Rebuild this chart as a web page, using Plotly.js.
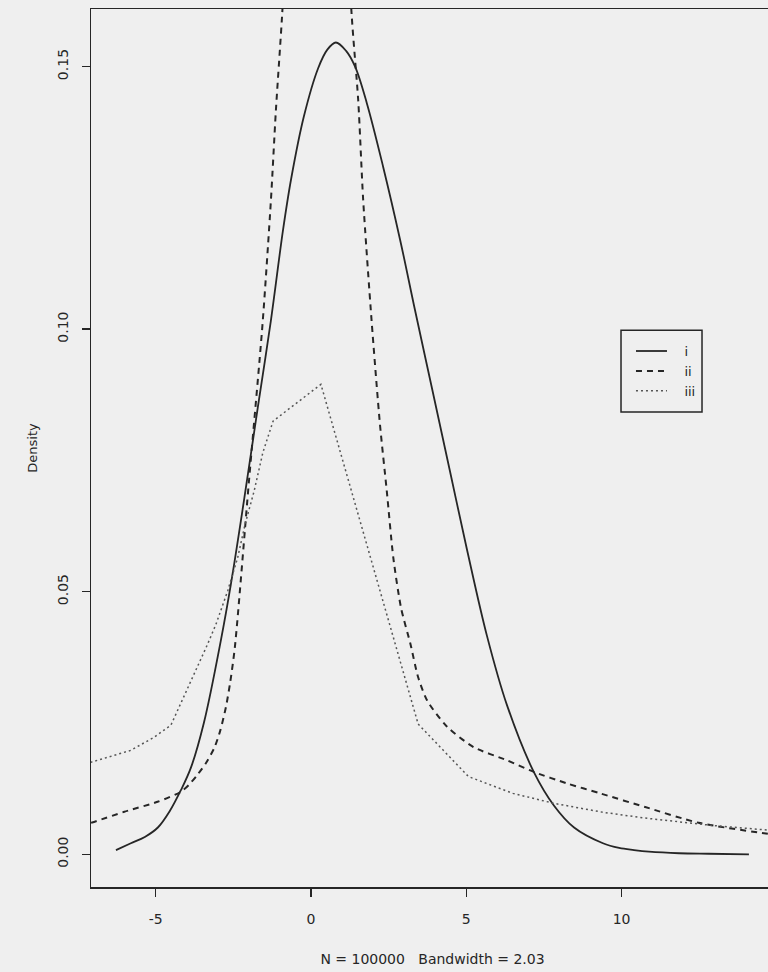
<!DOCTYPE html>
<html>
<head>
<meta charset="utf-8">
<script src="https://cdn.plot.ly/plotly-3.0.1.min.js"></script>
<style>
html, body { margin: 0; padding: 0; overflow: hidden; background: #efefef; }
#chart { width: 780px; height: 972px; }
</style>
</head>
<body>
<div id="chart"></div>
<script>
// Series i (solid)
const xI = [-6.28, -5.80, -5.35, -4.93, -4.55, -4.19, -3.86, -3.45, -2.90, -2.58, -2.16, -1.71, -1.29, -0.90, -0.64, -0.23, 0.23, 0.52, 0.80, 1.13, 1.42, 1.80, 2.32, 2.87, 3.35, 3.93, 4.48, 5.02, 5.67, 6.31, 7.18, 7.82, 8.47, 9.40, 9.92, 10.40, 10.88, 11.85, 12.80, 14.10];
const yI = [0.0008, 0.0021, 0.0033, 0.0051, 0.0082, 0.0122, 0.0166, 0.0250, 0.0408, 0.0514, 0.0673, 0.0852, 0.1017, 0.1189, 0.1286, 0.1405, 0.1497, 0.1532, 0.1546, 0.1530, 0.1500, 0.1430, 0.1310, 0.1170, 0.1036, 0.0878, 0.0728, 0.0581, 0.0415, 0.0284, 0.0156, 0.0093, 0.0051, 0.0021, 0.0012, 0.0008, 0.0005, 0.0002, 0.0001, 0.0000];

// Series ii (dashed) — its peak runs off the top of the plot
const xII = [-7.08, -6.92, -6.01, -4.94, -4.19, -3.92, -3.65, -3.38, -3.11, -2.92, -2.74, -2.60, -2.45, -2.00, -1.56, -1.29, -1.13, -0.93, 0.20, 1.31, 1.52, 1.68, 1.95, 2.22, 2.44, 2.65, 2.90, 3.20, 3.45, 3.74, 4.38, 5.24, 6.31, 7.17, 8.24, 9.31, 10.76, 12.48, 14.71, 15.20];
const yII = [0.0060, 0.0063, 0.0081, 0.0100, 0.0119, 0.0133, 0.0152, 0.0174, 0.0203, 0.0236, 0.0280, 0.0328, 0.0395, 0.0709, 0.1010, 0.1246, 0.1417, 0.1598, 0.2800, 0.1598, 0.1436, 0.1246, 0.1017, 0.0819, 0.0692, 0.0565, 0.0469, 0.0401, 0.0337, 0.0293, 0.0243, 0.0204, 0.0179, 0.0157, 0.0135, 0.0116, 0.0090, 0.0060, 0.0039, 0.0036];

// Series iii (dotted)
const xIII = [-7.10, -5.80, -5.05, -4.51, -3.33, -3.06, -2.68, -2.36, -2.12, -1.83, -1.55, -1.22, 0.32, 3.45, 5.07, 6.50, 7.82, 8.63, 9.40, 10.75, 12.91, 14.71, 15.20];
const yIII = [0.0175, 0.0198, 0.0223, 0.0246, 0.0400, 0.0438, 0.0502, 0.0565, 0.0629, 0.0692, 0.0765, 0.0825, 0.0895, 0.0248, 0.0148, 0.0116, 0.0097, 0.0088, 0.0080, 0.0069, 0.0055, 0.0046, 0.0044];

const seriesNames = ['i', 'ii', 'iii'];
const xTicks = [-5, 0, 5, 10];
const xTickText = ['-5', '0', '5', '10'];
const yTicks = [0, 0.05, 0.10, 0.15];
const yTickText = ['0.00', '0.05', '0.10', '0.15'];
const xTitle = 'N = 100000\u00a0\u00a0\u00a0Bandwidth = 2.03';
const yTitle = 'Density';

const FONT = 'DejaVu Sans, Liberation Sans, Arial, sans-serif';
const INK = '#262626';
const pad = '\u00a0\u00a0\u00a0';

const traces = [
  { x: xI, y: yI, name: pad + seriesNames[0], mode: 'lines', type: 'scatter',
    line: { color: INK, width: 1.8, dash: 'solid', shape: 'spline', smoothing: 1.0 } },
  { x: xII, y: yII, name: pad + seriesNames[1], mode: 'lines', type: 'scatter',
    line: { color: INK, width: 2, dash: '6px,5px', shape: 'spline', smoothing: 0.7 } },
  { x: xIII, y: yIII, name: pad + seriesNames[2], mode: 'lines', type: 'scatter',
    line: { color: '#555555', width: 1.5, dash: '2px,3px' } }
];

const layout = {
  width: 780, height: 972,
  margin: { l: 91, r: 6, t: 9, b: 85 },
  paper_bgcolor: '#efefef', plot_bgcolor: '#efefef',
  font: { family: FONT, size: 14, color: INK },
  showlegend: true,
  legend: {
    x: 0.7906, y: 0.6275, xanchor: 'left', yanchor: 'top',
    bgcolor: 'rgba(0,0,0,0)', borderwidth: 0, itemwidth: 31,
    font: { family: FONT, size: 13, color: INK }
  },
  shapes: [
    { type: 'rect', xref: 'paper', yref: 'paper', x0: 0.776, x1: 0.8946, y0: 0.541, y1: 0.634,
      line: { color: INK, width: 1.5 }, fillcolor: 'rgba(0,0,0,0)' }
  ],
  xaxis: {
    range: [-7.083, 14.907], tickvals: xTicks, ticktext: xTickText,
    showgrid: false, zeroline: false, showline: true, mirror: true,
    linecolor: INK, linewidth: 1.5, ticks: 'outside', ticklen: 8, tickwidth: 1.5, tickcolor: INK,
    ticklabelstandoff: 11,
    tickfont: { family: FONT, size: 14, color: INK },
    title: { text: xTitle, font: { family: FONT, size: 14, color: INK }, standoff: 28 }
  },
  yaxis: {
    range: [-0.00623, 0.16098], tickvals: yTicks, ticktext: yTickText, tickangle: -90,
    showgrid: false, zeroline: false, showline: true, mirror: true,
    linecolor: INK, linewidth: 1.5, ticks: 'outside', ticklen: 8, tickwidth: 1.5, tickcolor: INK,
    ticklabelstandoff: 8,
    tickfont: { family: FONT, size: 14, color: INK },
    title: { text: yTitle, font: { family: FONT, size: 13, color: INK }, standoff: 14 }
  }
};

Plotly.newPlot('chart', traces, layout, { displayModeBar: false, staticPlot: true });
</script>
</body>
</html>
